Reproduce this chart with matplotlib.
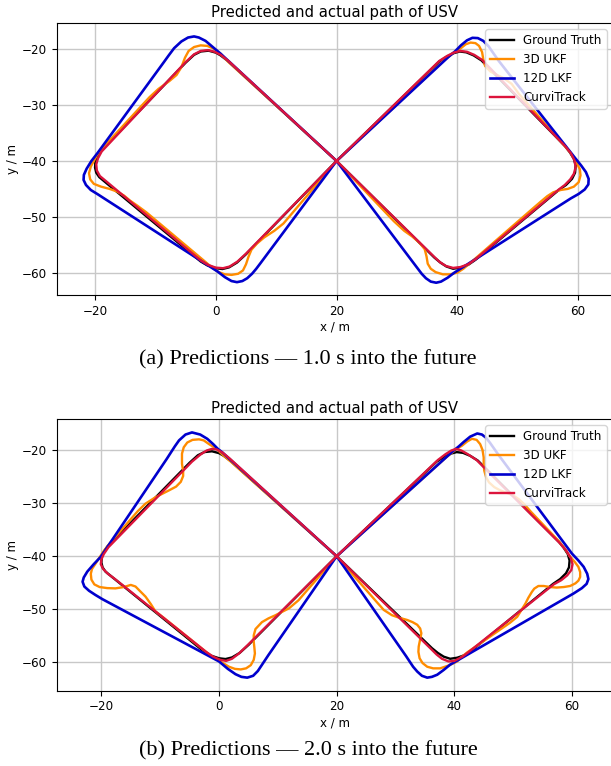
import numpy as np
import matplotlib
matplotlib.use("Agg")
import matplotlib.pyplot as plt

# ground truth path (same in both panels) as (x, y) in metres
truth_xy = np.array([
    (20.0, -40.0), (2.0, -22.1), (0.8, -21.1), (0.0, -20.6), (-1.2, -20.25), (-2.5, -20.4),
    (-3.6, -21.0), (-5.0, -22.4), (-19.0, -38.2), (-19.6, -39.2), (-19.95, -40.2), (-20.0, -41.2),
    (-19.8, -42.1), (-19.3, -42.9), (-18.3, -43.8), (-2.5, -58.0), (-1.4, -58.7), (0.0, -59.2),
    (1.1, -59.35), (2.2, -59.05), (3.5, -58.2), (5.0, -56.7), (20.0, -40.0),
    (37.0, -22.2), (38.3, -21.3), (39.4, -20.7), (40.4, -20.4), (41.5, -20.55), (42.7, -21.1),
    (44.0, -22.0), (57.8, -37.3), (58.6, -38.4), (59.3, -39.6), (59.6, -40.8), (59.5, -42.1),
    (59.0, -43.2), (58.0, -44.3), (56.8, -45.2), (43.0, -57.7), (41.8, -58.6), (40.5, -59.1),
    (39.3, -59.3), (38.2, -58.9), (37.2, -58.2), (36.2, -57.3), (20.0, -40.0),
])

# (a) 1.0 s ahead
ukf_a = np.array([
    (20.0, -40.0), (2.0, -22.2), (0.8, -20.8), (-0.3, -19.9), (-1.4, -19.4), (-2.5, -19.3),
    (-3.6, -19.6), (-4.5, -20.3), (-5.1, -21.5), (-5.7, -23.2), (-6.5, -24.6), (-7.7, -25.7),
    (-9.5, -27.1), (-11.0, -28.6), (-19.2, -38.2), (-19.7, -39.0), (-20.2, -40.0), (-20.7, -41.0),
    (-21.0, -42.2), (-20.8, -43.3), (-20.2, -44.1), (-19.0, -44.6), (-17.6, -45.0), (-16.3, -45.5),
    (-15.2, -46.2), (-14.2, -47.1), (-13.0, -48.0), (-11.5, -49.2), (-1.8, -58.0), (-0.5, -59.2),
    (0.5, -59.9), (1.5, -60.3), (2.6, -60.4), (3.7, -60.2), (4.5, -59.6), (5.0, -58.5),
    (5.4, -57.2), (5.9, -55.9), (6.8, -54.8), (8.0, -53.7), (9.7, -52.5), (11.2, -51.2),
    (20.0, -40.0),
    (37.8, -22.0), (39.4, -20.6), (40.6, -19.8), (41.4, -19.1), (42.2, -18.8), (43.0, -18.9),
    (43.6, -19.4), (44.1, -20.5), (44.3, -21.8), (44.6, -23.0), (45.5, -24.0), (46.6, -24.6),
    (47.7, -25.2), (49.0, -26.2), (50.2, -28.0), (58.0, -37.6), (59.0, -38.9), (59.7, -40.2),
    (60.3, -41.5), (60.4, -42.6), (60.1, -43.8), (59.3, -44.6), (58.3, -45.0), (57.1, -45.2),
    (55.9, -45.6), (54.9, -46.3), (53.8, -47.3), (52.3, -48.7), (42.2, -58.2), (41.0, -59.3),
    (40.0, -60.0), (38.8, -60.3), (37.6, -60.3), (36.4, -59.9), (35.6, -59.3), (35.1, -58.4),
    (34.9, -57.1), (34.6, -55.8), (33.7, -54.6), (32.5, -53.5), (31.2, -52.5), (29.5, -50.8),
    (20.0, -40.0),
])

lkf_a = np.array([
    (20.0, -40.0), (0.8, -20.8), (-0.5, -19.6), (-1.7, -18.5), (-2.8, -17.9), (-3.6, -17.7),
    (-4.6, -17.9), (-5.7, -18.6), (-6.9, -19.8), (-7.8, -21.1), (-8.6, -22.3), (-19.6, -38.6),
    (-20.6, -40.0), (-21.4, -41.4), (-21.85, -42.5), (-21.9, -43.4), (-21.5, -44.3), (-20.7, -45.2),
    (-19.5, -46.0), (-18.5, -46.7), (0.3, -59.8), (1.5, -60.8), (2.6, -61.5), (3.5, -61.7),
    (4.4, -61.5), (5.2, -61.0), (6.0, -60.2), (6.7, -59.3), (7.4, -58.3), (20.0, -40.0),
    (38.5, -21.4), (39.6, -20.4), (40.6, -19.3), (41.6, -18.4), (42.5, -17.95), (43.4, -18.0),
    (44.3, -18.5), (45.2, -19.5), (45.9, -20.6), (46.8, -22.0), (59.6, -39.6), (60.5, -40.8),
    (61.3, -42.0), (61.75, -43.2), (61.7, -44.2), (61.1, -45.1), (60.1, -45.9), (58.8, -46.7),
    (39.5, -60.0), (38.4, -60.9), (37.3, -61.6), (36.5, -61.8), (35.6, -61.6), (34.8, -61.0),
    (34.1, -60.2), (33.4, -59.2), (32.7, -58.2), (20.0, -40.0),
])

curvi_a = np.array([
    (20.0, -40.0), (2.0, -22.0), (0.8, -21.0), (-0.2, -20.45), (-1.3, -20.15), (-2.5, -20.3),
    (-3.6, -20.9), (-5.0, -22.3), (-18.9, -38.3), (-19.5, -39.5), (-19.8, -40.6), (-19.7, -41.7),
    (-19.2, -42.7), (-18.2, -43.6), (-2.5, -57.8), (-1.3, -58.6), (0.0, -59.1), (1.2, -59.2),
    (2.3, -58.9), (3.6, -58.0), (5.0, -56.6), (20.0, -40.0),
    (37.0, -22.1), (38.3, -21.2), (39.4, -20.6), (40.5, -20.3), (41.6, -20.45), (42.8, -21.0),
    (44.1, -21.9), (57.9, -37.4), (58.8, -38.6), (59.4, -39.9), (59.6, -41.1), (59.3, -42.3),
    (58.7, -43.3), (57.8, -44.3), (56.7, -45.2), (43.0, -57.6), (41.8, -58.5), (40.5, -59.0),
    (39.3, -59.15), (38.1, -58.8), (37.1, -58.1), (36.2, -57.2), (20.0, -40.0),
])

# (b) 2.0 s ahead
ukf_b = np.array([
    (20.0, -40.0), (2.0, -22.2), (0.6, -20.9), (-0.4, -19.8), (-1.7, -18.9), (-2.6, -18.2),
    (-3.4, -18.0), (-4.5, -18.1), (-5.4, -18.6), (-6.0, -19.5), (-6.3, -20.7), (-6.3, -22.6),
    (-6.1, -24.0), (-6.1, -24.9), (-6.5, -26.0), (-7.3, -26.9), (-8.5, -27.6), (-10.8, -28.9),
    (-12.5, -30.1), (-13.8, -31.5), (-18.6, -37.6), (-19.6, -39.0), (-20.3, -40.2), (-21.0, -41.4),
    (-21.6, -42.4), (-21.8, -43.3), (-21.7, -44.4), (-21.2, -45.3), (-20.3, -45.8), (-19.0, -46.0),
    (-17.6, -46.05), (-16.2, -45.8), (-15.0, -45.4), (-14.2, -45.7), (-13.4, -46.6), (-12.5, -47.6),
    (-11.6, -49.0), (-10.8, -50.4), (-9.5, -51.5), (-1.2, -58.9), (0.5, -60.0), (1.7, -60.8),
    (2.7, -61.2), (3.7, -61.3), (4.6, -61.1), (5.4, -60.5), (5.9, -59.5), (6.1, -58.3),
    (6.0, -57.1), (5.9, -56.1), (5.9, -54.9), (6.2, -53.7), (7.3, -52.4), (8.4, -51.7),
    (9.6, -51.1), (11.9, -49.8), (13.5, -48.3), (20.0, -40.0),
    (38.5, -21.5), (39.5, -20.6), (40.4, -19.8), (41.3, -19.2), (42.2, -18.4), (43.0, -17.9),
    (43.8, -18.1), (44.4, -18.9), (44.8, -20.0), (45.0, -21.4), (45.0, -22.8), (45.1, -23.9),
    (45.4, -25.1), (45.9, -26.1), (46.8, -27.0), (47.8, -27.6), (49.0, -28.1), (50.1, -28.6),
    (51.0, -29.3), (51.8, -30.1), (53.0, -31.6), (57.8, -37.2), (58.8, -38.6), (59.7, -40.1),
    (60.5, -41.1), (61.1, -42.0), (61.4, -43.0), (61.4, -43.9), (61.1, -44.6), (60.6, -45.1),
    (59.7, -45.6), (58.6, -45.8), (57.4, -45.9), (56.3, -45.8), (55.2, -45.6), (54.3, -45.6),
    (53.6, -46.1), (53.2, -46.7), (52.6, -47.8), (52.1, -48.9), (50.7, -51.4), (49.5, -52.5),
    (42.2, -58.1), (41.2, -59.0), (40.5, -59.8), (39.2, -60.5), (37.6, -61.1), (36.4, -61.1),
    (35.4, -60.8), (34.6, -60.1), (34.1, -59.2), (33.9, -58.0), (33.95, -57.0), (34.2, -55.6),
    (34.4, -54.5), (34.2, -53.6), (33.7, -52.9), (32.9, -52.4), (32.0, -52.0), (30.7, -51.6),
    (29.4, -51.1), (28.0, -50.1), (26.8, -48.6), (20.0, -40.0),
])

lkf_b = np.array([
    (20.0, -40.0), (0.5, -20.4), (-0.2, -19.8), (-1.0, -18.9), (-2.0, -17.9), (-3.2, -17.1),
    (-4.6, -16.7), (-5.7, -17.1), (-6.8, -18.2), (-7.5, -19.3), (-8.2, -20.5), (-8.9, -21.7),
    (-20.1, -40.1), (-21.3, -41.5), (-22.4, -42.9), (-23.0, -44.0), (-23.2, -44.8), (-22.9, -45.7),
    (-22.1, -46.5), (-21.0, -47.3), (-19.8, -48.1), (0.0, -59.8), (1.5, -61.2), (2.8, -62.2),
    (3.8, -62.7), (4.8, -62.85), (5.8, -62.5), (6.6, -61.6), (7.2, -60.6), (7.8, -59.6),
    (8.4, -58.6), (20.0, -40.0),
    (38.9, -21.1), (39.9, -20.1), (40.8, -19.3), (41.6, -18.5), (42.7, -17.5), (43.9, -16.9),
    (44.7, -17.1), (45.4, -17.7), (46.1, -18.7), (46.8, -19.8), (47.5, -20.9), (60.0, -39.5),
    (61.1, -40.8), (62.0, -42.0), (62.6, -43.3), (62.8, -44.3), (62.5, -45.2), (61.7, -46.0),
    (60.3, -47.0), (39.3, -60.4), (38.2, -61.4), (37.1, -62.3), (36.2, -62.7), (35.4, -62.85),
    (34.5, -62.5), (33.7, -61.7), (33.0, -60.8), (32.4, -59.8), (31.8, -58.8), (20.0, -40.0),
])

curvi_b = np.array([
    (20.0, -40.0), (1.8, -21.6), (0.6, -20.5), (-0.4, -19.9), (-1.2, -19.8), (-2.1, -20.1),
    (-3.2, -20.9), (-4.6, -22.2), (-18.8, -38.3), (-19.6, -39.6), (-20.0, -40.6), (-20.1, -41.5),
    (-19.7, -42.4), (-18.9, -43.3), (-17.8, -44.2), (-2.2, -58.0), (-1.0, -58.9), (0.2, -59.5),
    (1.2, -59.7), (2.2, -59.3), (3.4, -58.3), (4.8, -56.8), (20.0, -40.0),
    (37.2, -21.9), (38.5, -20.8), (39.5, -20.1), (40.3, -19.8), (41.2, -20.1), (42.3, -20.8),
    (43.8, -21.9), (58.0, -37.6), (59.0, -38.9), (59.8, -40.3), (60.1, -41.5), (59.9, -42.6),
    (59.2, -43.6), (58.2, -44.5), (56.9, -45.3), (42.7, -57.8), (41.4, -58.9), (40.0, -59.7),
    (39.0, -59.8), (37.9, -59.3), (37.0, -58.5), (36.0, -57.4), (20.0, -40.0),
])

labels = ["Ground Truth", "3D UKF", "12D LKF", "CurviTrack"]
colors = ["black", "darkorange", "mediumblue", "crimson"]
widths = [1.7, 1.7, 1.9, 1.7]
captions = ["(a) Predictions \u2014 1.0 s into the future",
            "(b) Predictions \u2014 2.0 s into the future"]

fs = 8.6
W, H = 611, 766
fig = plt.figure(figsize=(W / 100, H / 100), dpi=100)

panels = [
    dict(series=[truth_xy, ukf_a, lkf_a, curvi_a], top=23.3, bottom=295.0,
         xlim=(-26.35, 65.7), ylim=(-64.0, -15.35), cap_y=360),
    dict(series=[truth_xy, ukf_b, lkf_b, curvi_b], top=419.3, bottom=690.5,
         xlim=(-27.6, 66.9), ylim=(-65.27, -14.23), cap_y=751),
]

for p, cap in zip(panels, captions):
    left, right = 56.7, 612.5
    ax = fig.add_axes([left / W, 1 - p["bottom"] / H, (right - left) / W,
                       (p["bottom"] - p["top"]) / H])
    for xy, lab, c, lw in zip(p["series"], labels, colors, widths):
        ax.plot(xy[:, 0], xy[:, 1], color=c, lw=lw, label=lab)
    ax.set_xlim(*p["xlim"])
    ax.set_ylim(*p["ylim"])
    ax.set_xticks([-20, 0, 20, 40, 60])
    ax.set_yticks([-60, -50, -40, -30, -20])
    ax.grid(True, color="#c8c8c8", lw=1.0)
    ax.set_axisbelow(True)
    ax.tick_params(labelsize=fs)
    ax.set_xlabel("x / m", fontsize=fs, labelpad=2)
    ax.set_ylabel("y / m", fontsize=fs, labelpad=2)
    ax.set_title("Predicted and actual path of USV", fontsize=10.7, pad=4.5)
    ax.legend(loc="upper right", fontsize=fs)
    fig.text(308 / W, 1 - p["cap_y"] / H, cap, ha="center", va="center",
             fontsize=16, family="Liberation Serif")

fig.savefig("out.png", dpi=100)
